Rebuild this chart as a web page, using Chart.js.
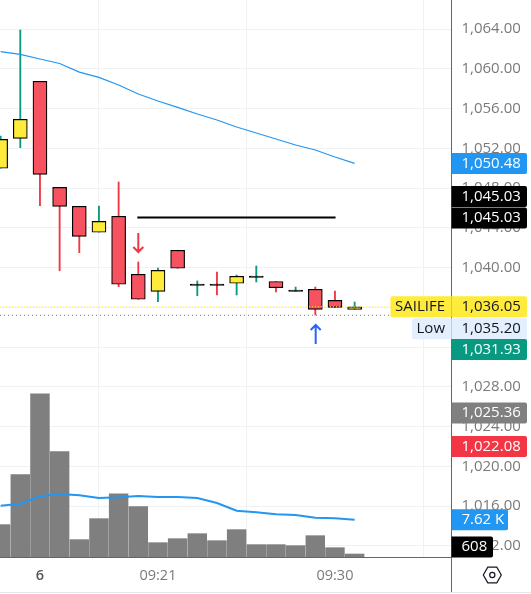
<!DOCTYPE html>
<html>
<head>
<meta charset="utf-8">
<style>
  html, body { margin: 0; padding: 0; background: #fff; }
  canvas { display: block; }
</style>
<script src="https://cdn.jsdelivr.net/npm/chart.js@4/dist/chart.umd.min.js"></script>
</head>
<body>
<canvas id="chart" width="531" height="594"></canvas>
<script>
// bar number along the time axis
const bars = [0, 1, 2, 3, 4, 5, 6, 7, 8, 9, 10, 11, 12, 13, 14, 15, 16, 17, 18];
const opens = [1049.99, 1053.00, 1058.74, 1048.07, 1046.16, 1043.55, 1045.16, 1039.32, 1037.61, 1041.74, 1038.21, 1038.22, 1038.42, 1039.02, 1038.60, 1037.61, 1037.81, 1036.70, 1035.80];
const highs = [1053.24, 1063.90, 1058.74, 1048.07, 1046.16, 1046.19, 1048.61, 1040.56, 1039.96, 1041.74, 1038.65, 1039.55, 1039.25, 1040.16, 1038.60, 1038.04, 1038.04, 1037.64, 1036.54];
const lows = [1049.99, 1052.06, 1046.22, 1039.68, 1041.50, 1043.55, 1038.08, 1036.81, 1036.57, 1039.93, 1037.17, 1037.24, 1037.24, 1038.55, 1037.54, 1037.61, 1035.23, 1036.00, 1035.80];
const closes = [1052.90, 1054.92, 1049.38, 1046.16, 1043.14, 1044.65, 1038.32, 1036.81, 1039.72, 1039.93, 1038.21, 1038.21, 1039.12, 1039.02, 1037.97, 1037.61, 1035.80, 1036.00, 1036.05];
const priceMa = [1061.72, 1061.45, 1060.98, 1060.53, 1059.67, 1059.14, 1058.37, 1057.46, 1056.76, 1056.12, 1055.45, 1054.85, 1054.14, 1053.54, 1052.93, 1052.33, 1051.83, 1051.12, 1050.48];
const volumes = [6600, 16800, 33300, 21500, 3540, 7820, 12900, 10270, 2920, 3740, 4760, 3330, 5580, 2520, 2520, 2310, 4350, 1900, 608];
const volumeMa = [10470, 10880, 12380, 12850, 12580, 12040, 12170, 12440, 12240, 12240, 12040, 11020, 9450, 9110, 8700, 8570, 8020, 7890, 7620];

const timeTicks = [2, 8, 17];
const timeLabels = ["6", "09:21", "09:30"];
const priceTicks = [1064, 1060, 1056, 1052, 1048, 1044, 1040, 1036, 1032, 1028, 1024, 1020, 1016, 1012];

const levelStart = 6.95;
const levelEnd = 17.03;
const levelPrice = 1045.03;
const lastPrice = 1036.05;
const lowPrice = 1035.2;
const downArrow = { bar: 7, price: 1041.57 };
const upArrow = { bar: 16.02, price: 1034.22 };

const GREEN = "#089981";
const RED = "#f23645";
const BLUE = "#2196f3";
const YELLOW = "#ffeb3b";
const GRID = "#f0f1f3";
const AXIS = "#666666";
const LABEL = "#7a7a7a";
const FONT = "'Open Sans', 'Noto Sans', sans-serif";

const xMin = -0.032;
const xMax = 22.9;

const isUp = bars.map((i) => closes[i] >= opens[i]);

function bodyColor(i) {
    // open and close on the same tick leave just a black dash
    if (Math.abs(closes[i] - opens[i]) < 0.02) return "#000";
    return isUp[i] ? YELLOW : "#f7525f";
}

// price tags on the right axis, nudge moves a tag off its neighbour
const tags = [
    { text: "1,050.48", value: 1050.48, bg: BLUE, fg: "#fff" },
    { text: "1,045.03", value: 1045.03, nudge: -21, bg: "#000", fg: "#fff" },
    { text: "1,045.03", value: 1045.03, nudge: 0.4, bg: "#000", fg: "#fff" },
    { text: "1,036.05", value: 1036.05, bg: YELLOW, fg: "#131722", side: "SAILIFE" },
    { text: "1,035.20", value: 1035.2, nudge: 13.5, bg: "#e3effd", fg: "#131722", side: "Low" },
    { text: "1,031.93", value: 1031.93, nudge: 1.7, bg: GREEN, fg: "#fff" },
    { text: "1,025.36", value: 1025.36, bg: "#808080", fg: "#fff" },
    { text: "1,022.08", value: 1022.08, nudge: 0.8, bg: RED, fg: "#fff" },
    { text: "7.62 K", volume: 7620, bg: BLUE, fg: "#fff", right: 508 },
    { text: "608", volume: 608, nudge: -7, bg: "#000", fg: "#fff", right: 493 },
];

function drawArrow(ctx, x, tipY, dir, color) {
    ctx.save();
    ctx.strokeStyle = color;
    ctx.lineWidth = 2;
    ctx.beginPath();
    ctx.moveTo(x, tipY);
    ctx.lineTo(x, tipY - dir * 19);
    ctx.moveTo(x - 5, tipY - dir * 5);
    ctx.lineTo(x, tipY);
    ctx.lineTo(x + 5, tipY - dir * 5);
    ctx.stroke();
    ctx.restore();
}

const overlay = {
    id: "overlay",
    afterDatasetsDraw(chart) {
        const { ctx, scales } = chart;
        drawArrow(ctx, scales.x.getPixelForValue(downArrow.bar), scales.y.getPixelForValue(downArrow.price), 1, RED);
        drawArrow(ctx, scales.x.getPixelForValue(upArrow.bar), scales.y.getPixelForValue(upArrow.price), -1, "#2962ff");
    },
    afterDraw(chart) {
        const { ctx, scales } = chart;
        const axisX = 451.5;
        ctx.save();

        // axis line runs on through the time strip, faint line closes the page
        ctx.strokeStyle = AXIS;
        ctx.lineWidth = 1;
        ctx.beginPath();
        ctx.moveTo(axisX, 0);
        ctx.lineTo(axisX, 592);
        ctx.stroke();
        ctx.strokeStyle = "#e6e6e6";
        ctx.beginPath();
        ctx.moveTo(0, 592.5);
        ctx.lineTo(531, 592.5);
        ctx.stroke();

        ctx.font = "15px " + FONT;
        ctx.textBaseline = "middle";
        tags.forEach((t) => {
            const base = t.volume !== undefined ? scales.yv.getPixelForValue(t.volume) : scales.y.getPixelForValue(t.value);
            const cy = base + (t.nudge || 0);
            const right = t.right || 527;
            if (t.side) {
                const w = ctx.measureText(t.side).width + 11;
                ctx.fillStyle = t.bg;
                ctx.beginPath();
                ctx.roundRect(axisX - w, cy - 10.5, w, 21, [2, 0, 0, 2]);
                ctx.fill();
                ctx.fillStyle = t.fg;
                ctx.textAlign = "left";
                ctx.fillText(t.side, axisX - w + 4.5, cy);
            }
            ctx.fillStyle = t.bg;
            ctx.beginPath();
            ctx.roundRect(axisX, cy - 10.5, right - axisX, 21, [0, 2, 2, 0]);
            ctx.fill();
            ctx.fillStyle = t.fg;
            ctx.textAlign = "left";
            ctx.fillText(t.text, 461.5, cy);
        });

        // settings hexagon
        const hx = 492.3;
        const hy = 575;
        ctx.strokeStyle = "#131722";
        ctx.lineWidth = 1.2;
        ctx.beginPath();
        for (let k = 0; k < 6; k++) {
            const a = (Math.PI / 3) * k;
            ctx.lineTo(hx + 9 * Math.cos(a), hy + 9 * Math.sin(a));
        }
        ctx.closePath();
        ctx.stroke();
        ctx.beginPath();
        ctx.arc(hx, hy, 2.6, 0, Math.PI * 2);
        ctx.stroke();
        ctx.restore();
    },
};

const lineStyle = { pointRadius: 0, fill: false, tension: 0, clip: true };

new Chart(document.getElementById("chart"), {
    type: "bar",
    data: {
        datasets: [
            {
                label: "Volume",
                data: bars.map((i) => ({ x: i, y: volumes[i] })),
                yAxisID: "yv",
                backgroundColor: "rgba(120, 120, 120, 0.95)",
                barThickness: 18.8,
                grouped: false,
                order: 9,
            },
            {
                type: "line",
                label: "Volume MA",
                data: bars.map((i) => ({ x: i, y: volumeMa[i] })),
                yAxisID: "yv",
                borderColor: BLUE,
                borderWidth: 2,
                order: 8,
                ...lineStyle,
            },
            {
                label: "Wicks",
                data: bars.map((i) => ({ x: i, y: [lows[i], highs[i]] })),
                yAxisID: "y",
                backgroundColor: isUp.map((up) => (up ? GREEN : RED)),
                barThickness: 1.2,
                grouped: false,
                order: 7,
            },
            {
                label: "Bodies",
                data: bars.map((i) => ({ x: i, y: [opens[i], closes[i]] })),
                yAxisID: "y",
                backgroundColor: bars.map(bodyColor),
                borderColor: "#000",
                borderWidth: 1.2,
                borderSkipped: false,
                barThickness: 14,
                minBarLength: 1.2,
                grouped: false,
                order: 6,
            },
            {
                type: "line",
                label: "Price MA",
                data: bars.map((i) => ({ x: i, y: priceMa[i] })),
                yAxisID: "y",
                borderColor: BLUE,
                borderWidth: 1.2,
                order: 5,
                ...lineStyle,
            },
            {
                type: "line",
                label: "Level",
                data: [{ x: levelStart, y: levelPrice }, { x: levelEnd, y: levelPrice }],
                yAxisID: "y",
                borderColor: "#000",
                borderWidth: 2,
                order: 4,
                ...lineStyle,
            },
            {
                type: "line",
                label: "Last",
                data: [{ x: xMin, y: lastPrice }, { x: xMax, y: lastPrice }],
                yAxisID: "y",
                borderColor: YELLOW,
                borderWidth: 1,
                borderDash: [1, 2],
                order: 3,
                ...lineStyle,
            },
            {
                type: "line",
                label: "Low",
                data: [{ x: xMin, y: lowPrice }, { x: xMax, y: lowPrice }],
                yAxisID: "y",
                borderColor: "#777",
                borderWidth: 1,
                borderDash: [1, 3],
                order: 2,
                ...lineStyle,
            },
        ],
    },
    options: {
        responsive: false,
        animation: false,
        layout: { padding: 0 },
        plugins: {
            legend: { display: false },
            tooltip: { enabled: false },
        },
        scales: {
            x: {
                type: "linear",
                bounds: "data",
                min: xMin,
                max: xMax,
                offset: false,
                afterBuildTicks: (scale) => {
                    scale.ticks = timeTicks.map((value) => ({ value }));
                },
                afterFit: (scale) => {
                    scale.height = 37;
                    scale.paddingLeft = 0;
                    scale.paddingRight = 0;
                },
                border: { color: AXIS, width: 1 },
                grid: { color: GRID, drawTicks: false },
                ticks: {
                    padding: 10,
                    autoSkip: false,
                    maxRotation: 0,
                    color: (c) => (c.index === 0 ? "#555" : LABEL),
                    font: (c) => ({ family: FONT, size: 14.5, weight: c.index === 0 ? "600" : "400" }),
                    callback: (value) => timeLabels[timeTicks.indexOf(value)],
                },
            },
            y: {
                position: "right",
                bounds: "data",
                min: 1010.88,
                max: 1066.92,
                afterBuildTicks: (scale) => {
                    scale.ticks = priceTicks.map((value) => ({ value }));
                },
                afterFit: (scale) => {
                    scale.width = 80;
                    scale.paddingTop = 0;
                    scale.paddingBottom = 0;
                },
                border: { display: false },
                grid: { color: GRID, drawTicks: false },
                ticks: {
                    autoSkip: false,
                    padding: 10.5,
                    color: LABEL,
                    font: { family: FONT, size: 15 },
                    callback: (value) => value.toLocaleString("en-US", { minimumFractionDigits: 2, maximumFractionDigits: 2 }),
                },
            },
            yv: {
                display: false,
                bounds: "data",
                min: 0,
                max: 113600,
            },
        },
    },
    plugins: [overlay],
});
</script>
</body>
</html>
